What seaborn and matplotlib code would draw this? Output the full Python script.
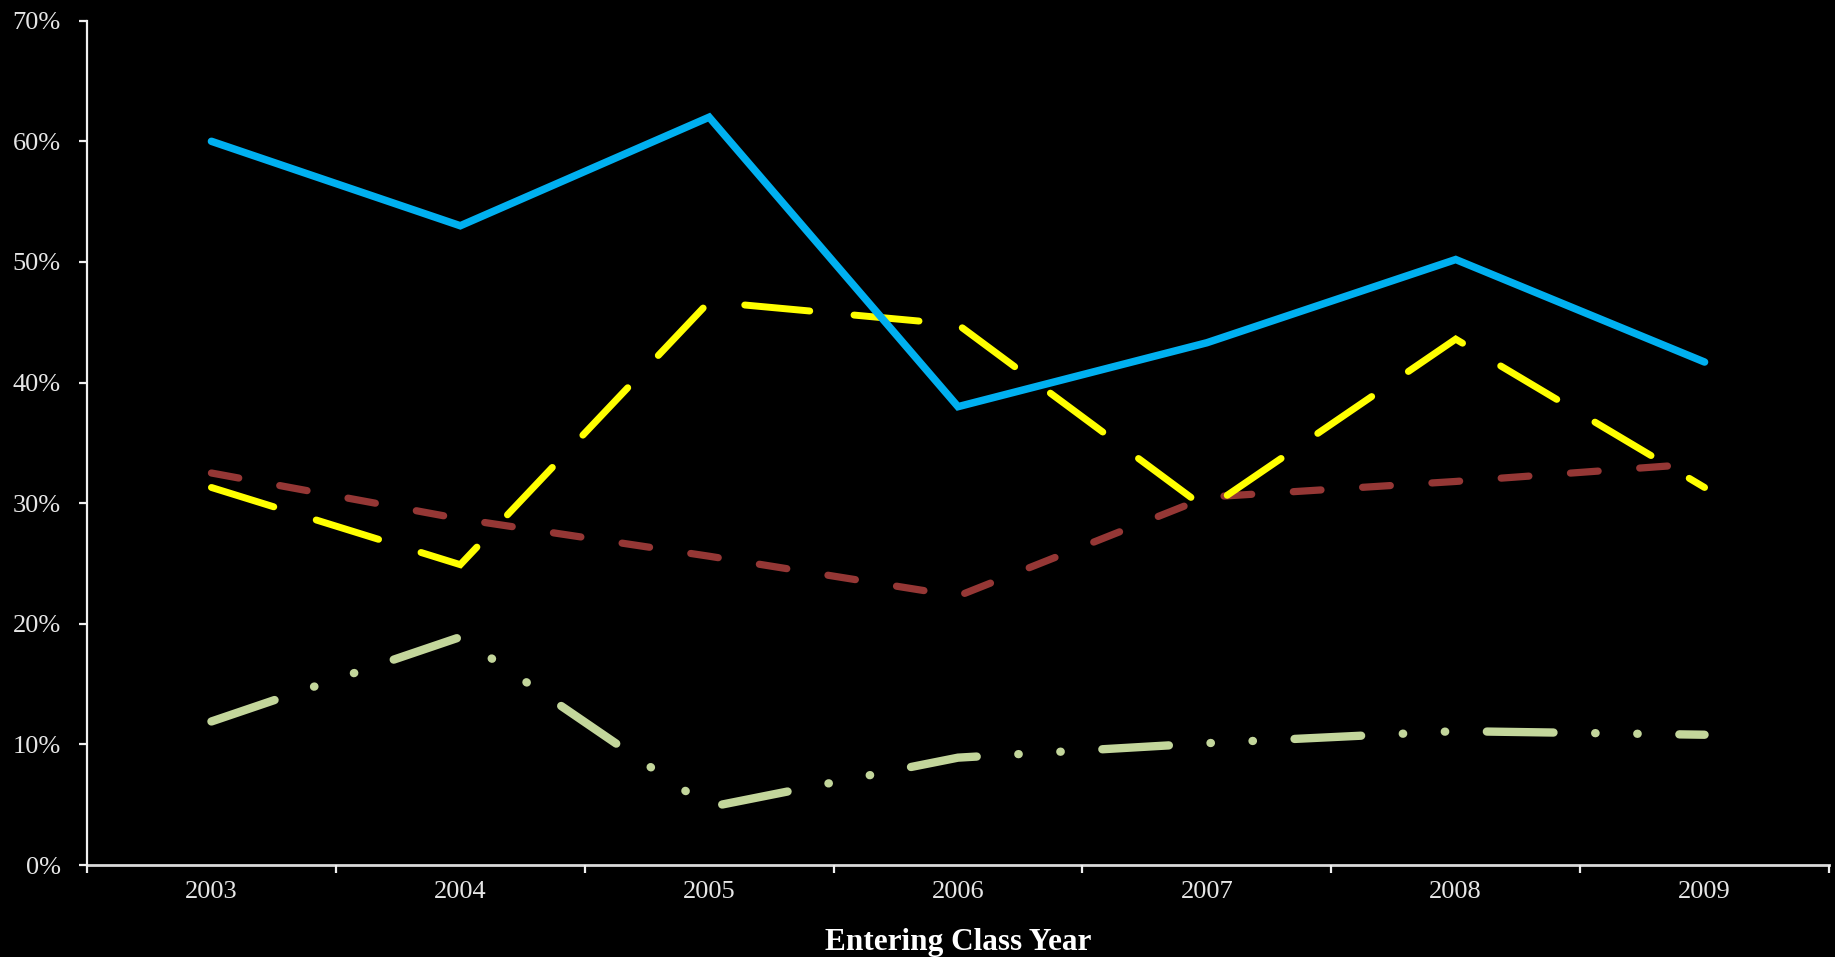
import numpy as np
import pandas as pd
import matplotlib
matplotlib.use("Agg")
import matplotlib.pyplot as plt
import matplotlib.transforms as mtransforms
import seaborn as sns

# ---- data ----
years = ["2003", "2004", "2005", "2006", "2007", "2008", "2009"]
series_blue = [60.0, 53.0, 62.0, 38.0, 43.3, 50.2, 41.7]
series_yellow = [31.3, 24.9, 46.7, 44.8, 29.5, 43.6, 31.3]
series_brown = [32.5, 28.7, 25.6, 22.3, 30.5, 31.8, 33.3]
series_green = [11.9, 18.9, 4.8, 8.9, 10.1, 11.1, 10.8]
y_ticks = [0, 10, 20, 30, 40, 50, 60, 70]
y_tick_labels = ["0%", "10%", "20%", "30%", "40%", "50%", "60%", "70%"]
x_title = "Entering Class Year"

sns.set_style("dark", {"axes.facecolor": "black", "figure.facecolor": "black"})
plt.rcParams["font.family"] = ["Liberation Serif", "DejaVu Serif"]
plt.rcParams["lines.scale_dashes"] = False

W, H = 1835, 957
fig = plt.figure(figsize=(W / 100, H / 100), dpi=100, facecolor="black")
ax = fig.add_axes([87 / W, 1 - 865 / H, (1829 - 87) / W, (865 - 20.7) / H])
ax.set_facecolor("black")

xpos = np.arange(len(years))
styles = [
    (series_brown, "#953735", 5.2, (0, (20, 30))),
    (series_yellow, "#ffff00", 5.0, (0, (47, 32))),
    (series_green, "#c3d69b", 6.0, (0, (48, 30, 0.3, 30, 0.3, 30))),
    (series_blue, "#00b0f0", 5.4, "solid"),
]
for vals, col, lw, ls in styles:
    df = pd.DataFrame({"x": xpos, "y": vals})
    sns.lineplot(data=df, x="x", y="y", ax=ax, color=col, linewidth=lw,
                 linestyle=ls, dash_capstyle="round", solid_capstyle="round",
                 solid_joinstyle="miter", dash_joinstyle="miter", legend=False)

ax.set_xlim(-0.5, len(years) - 0.5)
ax.set_ylim(0, 70)
ax.grid(False)

for s in ["top", "right"]:
    ax.spines[s].set_visible(False)
ax.spines["left"].set_color("#f0f0f0")
ax.spines["left"].set_linewidth(1.6)
ax.spines["bottom"].set_color("#d9d9d9")
ax.spines["bottom"].set_linewidth(2.0)
ax.spines["bottom"].set_zorder(0.5)

ax.set_yticks(y_ticks)
ax.set_yticklabels(y_tick_labels)
ax.tick_params(axis="y", direction="out", length=5.8, width=1.6, color="#f0f0f0",
               pad=13, labelsize=19, labelcolor="#e6e6e6", left=True)

ax.set_xticks(np.arange(-0.5, len(years), 1.0))
ax.set_xticklabels([""] * (len(years) + 1))
ax.set_xticks(xpos, minor=True)
ax.set_xticklabels(years, minor=True)
ax.tick_params(axis="x", which="major", direction="out", length=5.5, width=1.6,
               color="#f0f0f0", bottom=True)
ax.tick_params(axis="x", which="minor", length=0, pad=11.5, labelsize=19,
               labelcolor="#e6e6e6", bottom=True)

ax.set_xlabel(x_title, fontsize=22.5, fontweight="bold", color="white")
ax.set_ylabel("")
label_tr = mtransforms.blended_transform_factory(ax.transAxes, fig.transFigure)
ax.xaxis.set_label_coords(0.5, 7 / H, transform=label_tr)
ax.xaxis.label.set_va("baseline")

fig.savefig("out.png", dpi=100, facecolor="black")
